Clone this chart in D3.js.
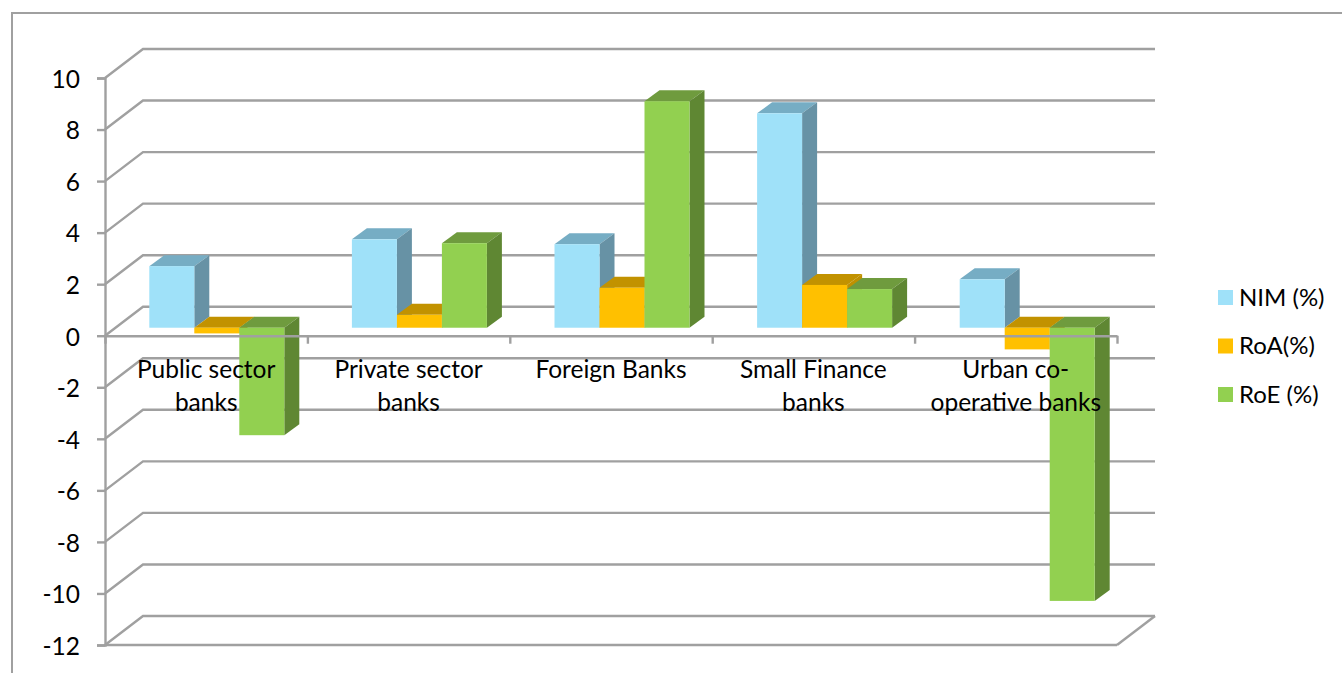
<!DOCTYPE html>
<html>
<head>
<meta charset="utf-8">
<script src="https://cdn.jsdelivr.net/npm/d3@7"></script>
<style>
  html, body { margin: 0; padding: 0; background: #fff; }
  svg { display: block; font-family: Lato, "Open Sans", sans-serif; }
</style>
</head>
<body>
<svg id="chart" width="1342" height="673"></svg>
<script>
// Banking ratios by bank group
const categories = ["Public sector banks", "Private sector banks", "Foreign Banks", "Small Finance banks", "Urban co-operative banks"];
const categoryLines = [["Public sector", "banks"], ["Private sector", "banks"], ["Foreign Banks"], ["Small Finance", "banks"], ["Urban co-", "operative banks"]];
const seriesNames = ["NIM (%)", "RoA(%)", "RoE (%)"];
const nim = [2.39, 3.43, 3.24, 8.32, 1.88];
const roa = [-0.22, 0.5, 1.55, 1.66, -0.84];
const roe = [-4.17, 3.28, 8.79, 1.5, -10.6];
const yTicks = [10, 8, 6, 4, 2, 0, -2, -4, -6, -8, -10, -12];

const seriesValues = [nim, roa, roe];
const frontColors = ["#9fe1f9", "#ffc000", "#92d050"];
const topColors = ["#76adc4", "#c29200", "#6f9b3e"];
const sideColors = ["#6792a5", "#bf9000", "#5f8733"];
const gridColor = "#a0a0a0";

const svg = d3.select("#chart");

// Outer frame: only top and left edges fall inside the view
svg.append("path")
  .attr("d", "M12,673V13H1342")
  .attr("fill", "none").attr("stroke", "#a0a0a0").attr("stroke-width", 2);

const plot = { left: 105, right: 1117, top: 78, bottom: 645 };
const wall = { dx: 38, dy: -29 };    // offset of the back wall from the front plane
const barDepth = { dx: 15, dy: -11 };
const barPlane = { dx: 10.5, dy: -8 }; // bars stand slightly behind the front plane

const y = d3.scaleLinear().domain([-12, 10]).range([plot.bottom, plot.top]);
const xLabels = d3.scaleBand().domain(categories).range([plot.left, plot.right]);
const xTicks = d3.scaleLinear().domain([0, categories.length]).range([plot.left, plot.right]);
const xBars = d3.scaleBand().domain(categories).range([plot.left + barPlane.dx, plot.right + barPlane.dx + 1]);
const xSeries = d3.scaleBand().domain(seriesNames).range([0, 135]);
const groupInset = (xBars.step() - 135) / 2;

// Gridlines on the back wall, each with a diagonal on the side wall
const grid = svg.append("g").attr("fill", "none").attr("stroke", gridColor).attr("stroke-width", 2.4);
grid.selectAll("path").data(yTicks).join("path")
  .attr("d", t => {
    const yy = y(t);
    return `M${plot.left},${yy}L${plot.left + wall.dx},${yy + wall.dy}H${plot.right + wall.dx}`;
  });
// Floor edge on the right
grid.append("path")
  .attr("d", `M${plot.right},${y(-12)}L${plot.right + wall.dx},${y(-12) + wall.dy}`);
grid.append("path")
  .attr("d", `M${plot.left},${y(-12)}H${plot.right}`);

// 3D columns
const marks = svg.append("g");
const flat = [];
categories.forEach((c, ci) => seriesNames.forEach((s, si) => {
  flat.push({ c, s, si, v: seriesValues[si][ci] });
}));

flat.forEach(d => {
  const x0 = xBars(d.c) + groupInset + xSeries(d.s);
  const w = xSeries.bandwidth();
  const yTop = y(Math.max(d.v, 0)) + barPlane.dy;
  const yBot = y(Math.min(d.v, 0)) + barPlane.dy;
  const g = marks.append("g");
  g.append("path").attr("fill", topColors[d.si])
    .attr("d", `M${x0},${yTop}l${barDepth.dx},${barDepth.dy}h${w}l${-barDepth.dx},${-barDepth.dy}Z`);
  g.append("path").attr("fill", sideColors[d.si])
    .attr("d", `M${x0 + w},${yTop}l${barDepth.dx},${barDepth.dy}V${yBot + barDepth.dy}l${-barDepth.dx},${-barDepth.dy}Z`);
  g.append("rect").attr("fill", frontColors[d.si])
    .attr("x", x0).attr("y", yTop).attr("width", w).attr("height", yBot - yTop);
});

// Value axis, with a plain hyphen for negative numbers
const yAxis = d3.axisLeft(y).tickValues(yTicks).tickSize(8).tickPadding(17).tickFormat(t => String(t));
const yG = svg.append("g").attr("transform", `translate(${plot.left},0)`).call(yAxis);
yG.select(".domain").attr("stroke", gridColor).attr("stroke-width", 2.4);
yG.selectAll(".tick line").attr("stroke", gridColor).attr("stroke-width", 2.4);
yG.selectAll(".tick text")
  .attr("font-family", "Lato, sans-serif").attr("font-size", 24.5).attr("fill", "#000")
  .attr("dy", "0.38em");

// Category axis sits at zero, with ticks between groups
const xAxis = d3.axisBottom(xTicks).tickValues(d3.range(categories.length + 1)).tickSize(8).tickSizeOuter(0).tickFormat("");
const xG = svg.append("g").attr("transform", `translate(0,${y(0)})`).call(xAxis);
xG.select(".domain").attr("stroke", gridColor).attr("stroke-width", 2.4);
xG.selectAll(".tick line").attr("stroke", gridColor).attr("stroke-width", 2.4);

// Category labels, drawn above the columns
const labels = svg.append("g")
  .attr("font-size", 24.5).attr("fill", "#000").attr("text-anchor", "middle");
categories.forEach((c, i) => {
  const t = labels.append("text");
  categoryLines[i].forEach((line, li) => {
    t.append("tspan")
      .attr("x", xLabels(c) + xLabels.bandwidth() / 2)
      .attr("y", 378 + li * 33)
      .text(line);
  });
});

// Legend
const legendY = d3.scalePoint().domain(seriesNames).range([297.5, 394.5]);
const legend = svg.append("g");
seriesNames.forEach((s, i) => {
  legend.append("rect")
    .attr("x", 1218).attr("y", legendY(s) - 7.5)
    .attr("width", 15).attr("height", 15).attr("fill", frontColors[i]);
  legend.append("text")
    .attr("x", 1239).attr("y", legendY(s) + 8)
    .attr("font-size", 24).attr("fill", "#000").text(s);
});
</script>
</body>
</html>
